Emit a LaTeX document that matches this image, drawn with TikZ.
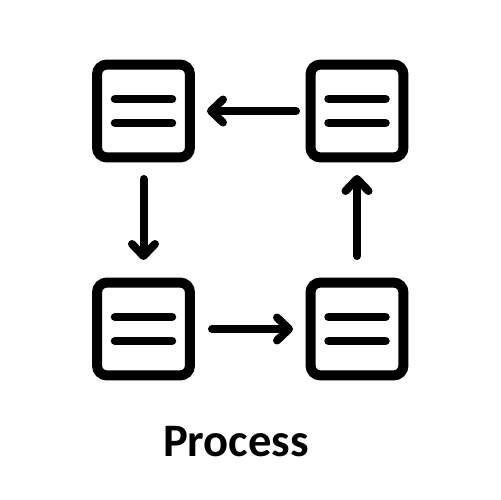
\documentclass[tikz,border=0pt]{standalone}
\usepackage{fontspec}
\setmainfont{Carlito}
\usetikzlibrary{arrows.meta}
\begin{document}
\begin{tikzpicture}[x=0.02cm,y=-0.02cm,
  card/.style={draw=black,line width=0.2cm,rounded corners=0.2cm,minimum size=1.86cm,inner sep=0pt,outer sep=0pt},
  bar/.style={draw=black,line width=0.17cm,line cap=round},
  flow/.style={draw=black,line width=0.16cm,line cap=round,-{Straight Barb[round,length=0.24cm,width=0.46cm]}}]
\useasboundingbox (0,0) rectangle (500,500);
\node[card] (tl) at (143.5,111) {};
\node[card] (tr) at (357,111) {};
\node[card] (bl) at (143.5,329) {};
\node[card] (br) at (357,329) {};
\foreach \n in {tl,tr,bl,br}{
  \draw[bar,shift={(\n.center)}] (-28.5,-12) -- (28.5,-12);
  \draw[bar,shift={(\n.center)}] (-28.5,12) -- (28.5,12);
}
\draw[flow,shorten <=0.29cm,shorten >=0.34cm] (tr.west) -- (tl.east);
\draw[flow,shorten <=0.43cm,shorten >=0.45cm] (tl.south) -- (bl.north);
\draw[flow,shorten <=0.44cm,shorten >=0.35cm] (bl.east) -- (br.west);
\draw[flow,shorten <=0.53cm,shorten >=0.35cm] (br.north) -- (tr.south);
\node[font=\bfseries\fontsize{26.5}{30}\selectfont,anchor=base] (title) at (236,456.7) {Process};
\end{tikzpicture}
\end{document}
